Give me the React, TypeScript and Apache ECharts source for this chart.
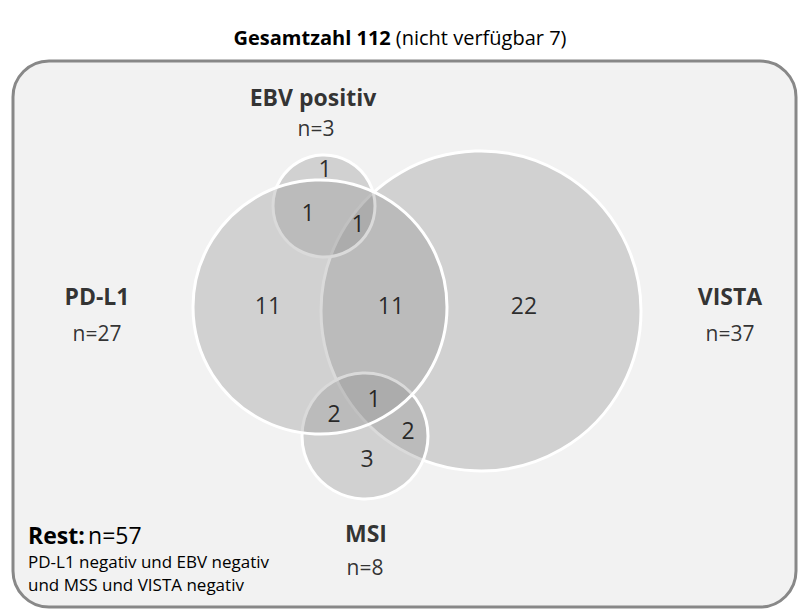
import React, { useEffect, useRef } from "react";
import * as echarts from "echarts";

// Sets of the Venn diagram (drawn in this order)
const setNames = ["VISTA", "EBV positiv", "MSI", "PD-L1"];
const setTotals = [37, 3, 8, 27];
// circle layout in chart units (x, y, radius)
const setCx = [481, 324, 365, 320];
const setCy = [311, 206, 436, 307];
const setR = [160, 51, 63, 127];
// where each set's name / count label sits
const setLabelX = [730, 313, 366, 97];
const setCountX = [730, 316, 365, 97];
const setLabelY = [296, 97, 533, 296];
const setCountY = [333, 128, 567, 333];

// Region counts and label anchors
const regionCounts = [1, 1, 1, 11, 11, 22, 1, 2, 2, 3];
const regionX = [325, 308, 358, 268, 391, 524, 374, 334, 408, 367];
const regionY = [168, 212, 223, 305, 305, 305, 398, 413, 430, 458];

const total = 112;
const notAvailable = 7;
const restCount = 57;
const restLines = ["PD-L1 negativ und EBV negativ", "und MSS und VISTA negativ"];

const FONT = "'Open Sans', 'Noto Sans', sans-serif";

export default function App() {
  const ref = useRef<HTMLDivElement>(null);
  useEffect(() => {
    if (!ref.current) return;
    const chart = echarts.init(ref.current, null, { renderer: "svg" });
    chart.setOption({
      animation: false,
      backgroundColor: "#ffffff",
      title: {
        left: "center",
        top: 20,
        text: `{b|Gesamtzahl ${total}} {n|(nicht verfügbar ${notAvailable})}`,
        textStyle: {
          rich: {
            b: { fontFamily: FONT, fontSize: 20, lineHeight: 24, fontWeight: "bold", color: "#000" },
            n: { fontFamily: FONT, fontSize: 20, lineHeight: 24, fontWeight: "normal", color: "#000" },
          },
        },
      },
      grid: { left: 0, right: 0, top: 0, bottom: 0 },
      xAxis: { type: "value", min: 0, max: 800, show: false },
      yAxis: { type: "value", min: 0, max: 610, inverse: true, show: false },
      graphic: [
        {
          type: "rect",
          z: -10,
          silent: true,
          shape: { x: 13, y: 61, width: 783, height: 546, r: 36 },
          style: { fill: "#f2f2f2", stroke: "#888888", lineWidth: 3 },
        },
        {
          type: "text",
          z: 10,
          x: 28,
          y: 535,
          style: {
            text: `{b|Rest:} {n|n=${restCount}}`,
            verticalAlign: "middle",
            rich: {
              b: { fontFamily: FONT, fontSize: 23, fontWeight: "bold", fill: "#000" },
              n: { fontFamily: FONT, fontSize: 23, fontWeight: "normal", fill: "#000" },
            },
          },
        },
        ...restLines.map((t, i) => ({
          type: "text",
          z: 10,
          x: 28,
          y: 561 + i * 23,
          style: {
            text: t,
            fontFamily: FONT,
            fontSize: 17,
            fill: "#000",
            verticalAlign: "middle",
          },
        })),
      ],
      series: [
        {
          type: "custom",
          coordinateSystem: "cartesian2d",
          silent: true,
          data: setNames.map((_, i) => [setCx[i], setCy[i], setR[i]]),
          renderItem: (params: any, api: any) => {
            const c = api.coord([api.value(0), api.value(1)]);
            const rr = api.size([api.value(2), 0])[0];
            return {
              type: "circle",
              shape: { cx: c[0], cy: c[1], r: rr },
              style: { fill: "rgba(140,140,140,0.32)", stroke: "#ffffff", lineWidth: 3 },
            };
          },
          z: 2,
        },
        {
          type: "scatter",
          symbolSize: 0,
          silent: true,
          z: 5,
          data: regionCounts.map((v, i) => [regionX[i], regionY[i], v]),
          label: {
            show: true,
            position: "inside",
            formatter: (p: any) => String(p.value[2]),
            fontFamily: FONT,
            fontSize: 23,
            color: "#000",
          },
        },
        {
          type: "scatter",
          symbolSize: 0,
          silent: true,
          z: 5,
          data: setNames.map((n, i) => [setLabelX[i], setLabelY[i], n]),
          label: {
            show: true,
            position: "inside",
            formatter: (p: any) => p.value[2],
            fontFamily: FONT,
            fontSize: 23,
            fontWeight: "bold",
            color: "#000",
          },
        },
        {
          type: "scatter",
          symbolSize: 0,
          silent: true,
          z: 5,
          data: setTotals.map((n, i) => [setCountX[i], setCountY[i], n]),
          label: {
            show: true,
            position: "inside",
            formatter: (p: any) => "n=" + p.value[2],
            fontFamily: FONT,
            fontSize: 21,
            color: "#000",
          },
        },
      ],
    });
    return () => chart.dispose();
  }, []);
  return (
    <div
      ref={ref}
      style={{ position: "fixed", left: 0, top: 0, width: 800, height: 610 }}
    />
  );
}
